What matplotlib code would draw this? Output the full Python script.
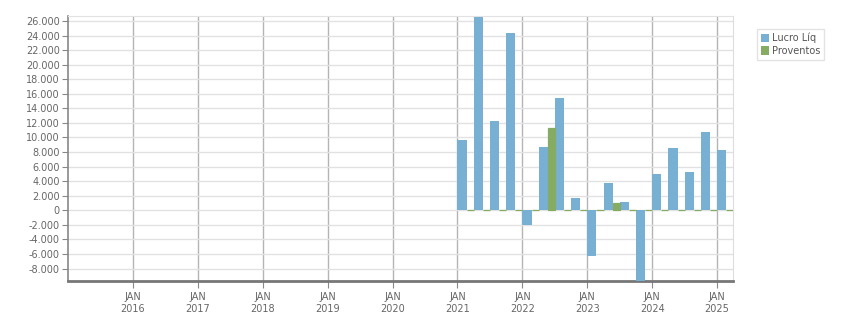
import matplotlib.pyplot as plt
from matplotlib.ticker import FuncFormatter

# dados trimestrais
quarters = ['2021Q1', '2021Q2', '2021Q3', '2021Q4',
            '2022Q1', '2022Q2', '2022Q3', '2022Q4',
            '2023Q1', '2023Q2', '2023Q3', '2023Q4',
            '2024Q1', '2024Q2', '2024Q3', '2024Q4',
            '2025Q1']
lucro = [9650, 26550, 12270, 24350,
         -2000, 8700, 15420, 1700,
         -6270, 3750, 1140, -11500,
         4990, 8560, 5260, 10750,
         8280]
proventos = [0, 0, 0, 0,
             0, 11300, 0, 0,
             0, 1000, 0, 0,
             0, 0, 0, 0,
             0]
years = list(range(2016, 2026))
year_labels = ['JAN\n%d' % y for y in years]

blue = '#78b0d3'
green = '#86ac63'
txt = '#666666'

# posicao de cada trimestre em anos decimais
pos = [int(q[:4]) + (int(q[-1]) - 1) / 4 for q in quarters]
w_blue = 0.142
w_green = 0.108

fig = plt.figure(figsize=(8.51, 3.13), dpi=100)
ax = fig.add_axes([68 / 851, 1 - 281 / 313, (733 - 68) / 851, (281 - 16) / 313])

ax.bar(pos, lucro, width=w_blue, align='edge', color=blue, linewidth=0,
       label='Lucro Líq', zorder=3)
ax.bar([p + w_blue for p in pos], proventos, width=w_green, align='edge',
       color=green, edgecolor=green, linewidth=0.9, label='Proventos', zorder=3)

ax.set_xlim(2015.0, 2025.245)
ax.set_ylim(-9710, 26680)

ax.set_yticks(range(-8000, 26001, 2000))
ax.yaxis.set_major_formatter(FuncFormatter(lambda v, p: f'{v:,.0f}'.replace(',', '.')))
ax.set_xticks(years)
ax.set_xticklabels(year_labels)

ax.set_axisbelow(True)
ax.grid(axis='y', color='#e2e2e2', linewidth=1)
ax.grid(axis='x', color='#b4b4b4', linewidth=1)

ax.tick_params(axis='both', colors='#888888', labelcolor=txt, labelsize=7, length=4)
ax.tick_params(axis='y', pad=2)
ax.tick_params(axis='x', length=5, pad=3)

ax.spines['left'].set_color('#888888')
ax.spines['left'].set_linewidth(1.2)
ax.spines['bottom'].set_color('#777777')
ax.spines['bottom'].set_linewidth(2)
ax.spines['top'].set_color('#e2e2e2')
ax.spines['right'].set_color('#dddddd')

leg = fig.legend(loc='upper left', bbox_to_anchor=(757 / 851, 1 - 29 / 313),
                 fontsize=7, frameon=True, fancybox=False, edgecolor='#dddddd',
                 handlelength=0.8, handleheight=0.9, handletextpad=0.3,
                 borderpad=0.4, labelspacing=0.25, borderaxespad=0)
for t in leg.get_texts():
    t.set_color('#555555')
for h in leg.legend_handles:
    h.set_linewidth(0)

fig.savefig('out.png', dpi=100)
